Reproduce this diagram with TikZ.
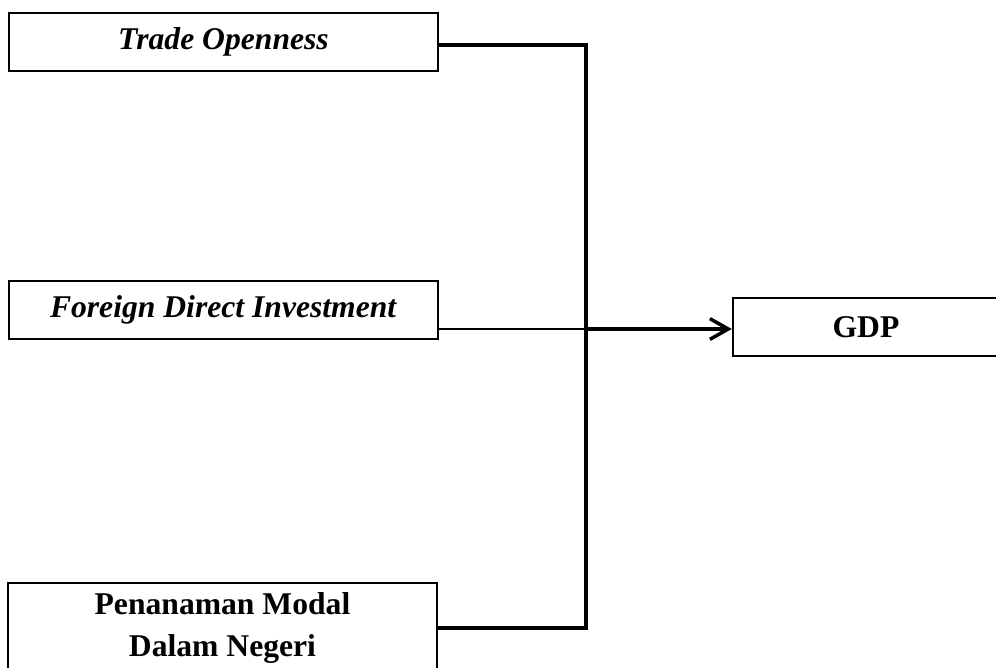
\documentclass[tikz,border=0pt]{standalone}
\usepackage{fontspec}
\setmainfont{Liberation Serif}
\usepackage{tikz}
\usetikzlibrary{arrows.meta, positioning}

\begin{document}
\begin{tikzpicture}[x=0.03cm, y=-0.03cm,
    every node/.append style={font=\fontsize{27}{36.6}\selectfont},
    box/.style={draw, line width=2pt, minimum width=12.87cm, minimum height=1.74cm, align=center, inner sep=0pt},
    conn/.style={line width=3pt},
    arr/.style={-{Straight Barb[length=0.55cm, width=0.62cm, line width=3pt]}, line width=3pt},
]
\useasboundingbox (0,0) rectangle (996,668);

\node[box] (trade) at (223.5, 42) {\textbf{\textit{Trade Openness}}};
\node[box] (fdi) at (223.5, 310) {\textbf{\textit{Foreign Direct Investment}}};
\node[box, minimum height=2.7cm] (pmdn) at (222.5, 628) {\textbf{Penanaman Modal}\\\textbf{Dalam Negeri}};
\node[box, minimum width=7.98cm] (gdp) at (866, 327) {\textbf{GDP}};

\coordinate (jn) at (586, 329);

\draw[conn] ([yshift=-0.09cm]trade.east) -| (jn);
\draw[conn] (pmdn.east) -| (jn);
\draw[line width=1.1pt] (fdi.east |- jn) -- (jn);
\draw[arr] (jn) -- (gdp.west |- jn);

\end{tikzpicture}
\end{document}
